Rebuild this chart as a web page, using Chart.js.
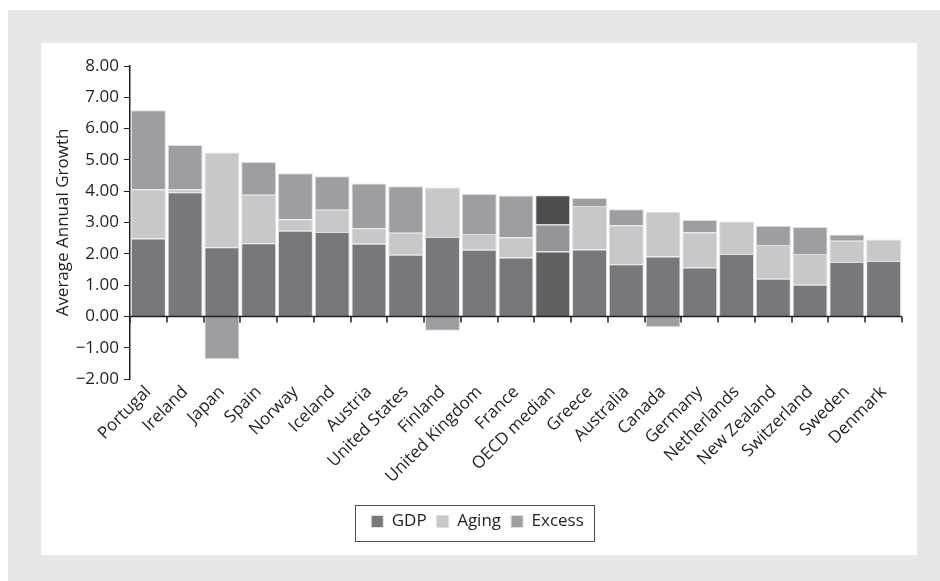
<!DOCTYPE html>
<html lang="en">
<head>
  <meta charset="utf-8">
  <script src="https://cdn.jsdelivr.net/npm/chart.js"></script>
</head>
<style>
  body {
    margin: 0;
    background-color: #fff;
    font-family: 'Open Sans', sans-serif;
  }

  .frame {
    position: absolute;
    left: 8px;
    top: 10px;
    right: 0;
    bottom: 0;
    background-color: #e6e7e8;
  }

  .panel {
    position: absolute;
    left: 33px;
    top: 33px;
    width: 876px;
    height: 512px;
    background-color: #fff;
  }
</style>
<body>

  <div class="frame">
    <div class="panel">
      <canvas id="growthChart" width="876" height="512"></canvas>
    </div>
  </div>

  <script>
    // Countries, sorted by total growth (OECD median kept in its place)
    var paises = [
      'Portugal', 'Ireland', 'Japan', 'Spain', 'Norway', 'Iceland', 'Austria',
      'United States', 'Finland', 'United Kingdom', 'France', 'OECD median',
      'Greece', 'Australia', 'Canada', 'Germany', 'Netherlands', 'New Zealand',
      'Switzerland', 'Sweden', 'Denmark'
    ];

    // Components of average annual growth
    var gdp = [2.49, 3.97, 2.21, 2.34, 2.74, 2.70, 2.32, 1.97, 2.54, 2.13, 1.88, 2.07,
               2.14, 1.67, 1.91, 1.56, 1.99, 1.20, 1.01, 1.74, 1.77];
    var aging = [1.57, 0.09, 3.03, 1.55, 0.36, 0.71, 0.50, 0.70, 1.58, 0.50, 0.65, 0.87,
                 1.39, 1.24, 1.43, 1.13, 1.04, 1.08, 0.98, 0.68, 0.69];
    var excess = [2.53, 1.42, -1.37, 1.04, 1.47, 1.07, 1.43, 1.49, -0.46, 1.28, 1.33, 0.93,
                  0.25, 0.51, -0.35, 0.39, 0, 0.62, 0.87, 0.20, 0];

    var yTicks = [-2, -1, 0, 1, 2, 3, 4, 5, 6, 7, 8];

    var mediana = paises.indexOf('OECD median');
    var ink = '#231f20';
    var fuente = "'Open Sans', sans-serif";

    // Median bar gets darker shades
    function tono(normal, oscuro) {
      return function(ctx) {
        return ctx.dataIndex === mediana ? oscuro : normal;
      };
    }

    // Zero line with its small tick marks, plus a box round the legend
    var ejes = {
      id: 'ejes',
      afterDatasetsDraw: function(chart) {
        var ctx = chart.ctx;
        var x = chart.scales.x;
        var y0 = chart.scales.y.getPixelForValue(0);
        ctx.save();
        ctx.strokeStyle = ink;
        ctx.lineWidth = 1.5;
        ctx.beginPath();
        ctx.moveTo(chart.chartArea.left, y0);
        ctx.lineTo(chart.chartArea.right, y0);
        for (var i = 0; i <= paises.length; i++) {
          var px = Math.round(x.getPixelForValue(i - 0.5));
          ctx.moveTo(px, y0);
          ctx.lineTo(px, y0 + 6);
        }
        ctx.stroke();
        ctx.restore();
      },
      afterDraw: function(chart) {
        var boxes = chart.legend.legendHitBoxes;
        if (!boxes || !boxes.length) return;
        var l = Math.min.apply(null, boxes.map(function(b) { return b.left; }));
        var r = Math.max.apply(null, boxes.map(function(b) { return b.left + b.width; }));
        var ctx = chart.ctx;
        ctx.save();
        ctx.strokeStyle = '#4d4d4f';
        ctx.lineWidth = 1;
        ctx.strokeRect(Math.round(l - 16) + 0.5, Math.round(chart.legend.top) + 2.5,
                       Math.round(r - l + 26), Math.round(chart.legend.height) - 1);
        ctx.restore();
      }
    };

    var grafico = new Chart(document.getElementById('growthChart').getContext('2d'), {
      type: 'bar',
      data: {
        labels: paises,
        datasets: [{
          label: 'GDP',
          data: gdp,
          backgroundColor: tono('#77787b', '#5f6062')
        }, {
          label: 'Aging',
          data: aging,
          backgroundColor: tono('#c7c8ca', '#939598')
        }, {
          label: 'Excess',
          data: excess,
          backgroundColor: tono('#9d9ea1', '#4d4e50')
        }]
      },
      options: {
        responsive: false,
        animation: false,
        datasets: {
          bar: {
            barPercentage: 0.95,
            categoryPercentage: 1,
            borderWidth: 1,
            borderColor: '#dedfe0'
          }
        },
        layout: {
          padding: { top: 23, right: 15, left: 12, bottom: 15 }
        },
        plugins: {
          tooltip: { enabled: false },
          legend: {
            position: 'bottom',
            labels: {
              color: ink,
              boxWidth: 12,
              boxHeight: 12,
              padding: 10,
              font: { family: fuente, size: 17 }
            }
          }
        },
        scales: {
          x: {
            stacked: true,
            grid: { display: false, drawTicks: false },
            border: { display: false },
            ticks: {
              color: ink,
              minRotation: 45,
              maxRotation: 45,
              padding: 3,
              font: { family: fuente, size: 17 }
            },
            afterFit: function(scale) { scale.height = 124; }
          },
          y: {
            stacked: true,
            min: -2,
            max: 8,
            afterBuildTicks: function(scale) {
              scale.ticks = yTicks.map(function(v) { return { value: v }; });
            },
            grid: {
              drawOnChartArea: false,
              tickLength: 6,
              tickColor: ink
            },
            border: { color: ink, width: 1.5 },
            title: {
              display: true,
              text: 'Average Annual Growth',
              color: ink,
              padding: 0,
              font: { family: fuente, size: 17 }
            },
            ticks: {
              color: ink,
              padding: 5,
              font: { family: fuente, size: 17 },
              callback: function(v) {
                return (v < 0 ? '\u2212' : '') + Math.abs(v).toFixed(2);
              }
            },
            afterFit: function(scale) { scale.width = 77; }
          }
        }
      },
      plugins: [ejes]
    });
  </script>
</body>
</html>
